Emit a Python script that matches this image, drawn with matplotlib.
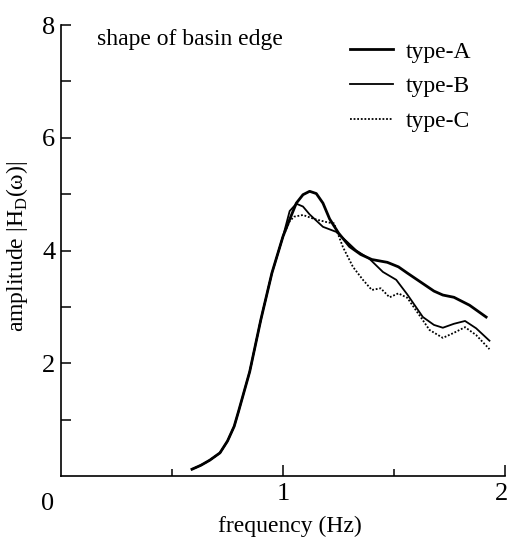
import matplotlib
matplotlib.use("Agg")
import matplotlib.pyplot as plt
import matplotlib.transforms as mtransforms

plt.rcParams["font.family"] = ["Liberation Serif", "DejaVu Serif"]
plt.rcParams["mathtext.fontset"] = "custom"
plt.rcParams["mathtext.rm"] = "Liberation Serif"

# shared low-frequency rise (all three edge shapes coincide here)
f_rise = [0.59, 0.63, 0.67, 0.716, 0.75, 0.78, 0.80, 0.85, 0.90, 0.95, 1.00]
a_rise = [0.12, 0.19, 0.28, 0.41, 0.62, 0.88, 1.15, 1.85, 2.77, 3.60, 4.25]

f_a = [1.03, 1.06, 1.09, 1.12, 1.15, 1.18, 1.21, 1.25, 1.30, 1.35, 1.40,
       1.47, 1.52, 1.56, 1.62, 1.68, 1.72, 1.77, 1.84, 1.915]
a_a = [4.55, 4.84, 4.99, 5.05, 5.01, 4.84, 4.56, 4.31, 4.07, 3.93, 3.84,
       3.79, 3.71, 3.60, 3.44, 3.28, 3.21, 3.17, 3.03, 2.82]

f_b = [1.03, 1.06, 1.09, 1.12, 1.18, 1.24, 1.29, 1.33, 1.39, 1.45, 1.51,
       1.56, 1.63, 1.68, 1.72, 1.77, 1.82, 1.87, 1.93]
a_b = [4.70, 4.83, 4.78, 4.64, 4.42, 4.33, 4.15, 4.00, 3.85, 3.62, 3.48,
       3.22, 2.82, 2.68, 2.63, 2.70, 2.75, 2.62, 2.40]

f_c = [1.03, 1.05, 1.09, 1.14, 1.20, 1.23, 1.27, 1.315, 1.36, 1.40, 1.44,
       1.48, 1.52, 1.56, 1.62, 1.66, 1.72, 1.77, 1.82, 1.87, 1.93]
a_c = [4.52, 4.60, 4.63, 4.56, 4.50, 4.48, 4.06, 3.71, 3.48, 3.30, 3.33,
       3.17, 3.24, 3.16, 2.82, 2.59, 2.45, 2.54, 2.64, 2.50, 2.25]

labels = ["type-A", "type-B", "type-C"]

fig = plt.figure(figsize=(5.10, 5.38), dpi=100)
ax = fig.add_axes([61 / 510, 62 / 538, 444 / 510, 451 / 538])

ax.plot(f_rise + f_a, a_rise + a_a, color="black", lw=2.0, label=labels[0],
        solid_joinstyle="round")
ax.plot(f_rise + f_b, a_rise + a_b, color="black", lw=1.3, label=labels[1],
        solid_joinstyle="round")
ax.plot(f_rise + f_c, a_rise + a_c, color="black", lw=1.3, ls=(0, (1, 1)),
        label=labels[2])

ax.set_xlim(0, 2)
ax.set_ylim(0, 8)
for side in ["top", "right"]:
    ax.spines[side].set_visible(False)
for side in ["left", "bottom"]:
    ax.spines[side].set_linewidth(1.2)

ax.set_yticks([2, 4, 6, 8])
ax.set_yticks([1, 3, 5, 7], minor=True)
ax.set_xticks([1, 2])
ax.set_xticklabels(["1", "2"])
ax.set_xticks([0.5, 1.5], minor=True)
ax.tick_params(axis="y", which="both", direction="in", length=7, width=1.1,
               labelsize=19, pad=4)
ax.tick_params(axis="x", which="major", direction="in", length=8, width=1.1,
               labelsize=19, pad=5)
ax.tick_params(axis="x", which="minor", direction="in", length=5, width=1.1)

# nudge the "2" inward so it stays on the canvas
lbl2 = ax.get_xticklabels()[1]
lbl2.set_transform(lbl2.get_transform() +
                   mtransforms.ScaledTranslation(-3 / 100, 0, fig.dpi_scale_trans))

ax.text(-0.03, -0.037, "0", transform=ax.transAxes, fontsize=19,
        ha="center", va="top")

ax.set_xlabel("frequency (Hz)", fontsize=17)
ax.xaxis.set_label_coords(0.515, -0.088)
ax.set_ylabel(r"amplitude |H$_{\mathrm{D}}$(ω)|", fontsize=17)
ax.yaxis.set_label_coords(-0.07, 0.51)

ax.text(0.081, 0.967, "shape of basin edge", transform=ax.transAxes,
        fontsize=17, ha="left", va="center")

ax.legend(loc="upper left", bbox_to_anchor=(0.651, 0.964), frameon=False,
          fontsize=17, handlelength=1.8, handletextpad=0.55, labelspacing=0.55,
          borderpad=0, borderaxespad=0)

fig.savefig("out.png", dpi=100)
